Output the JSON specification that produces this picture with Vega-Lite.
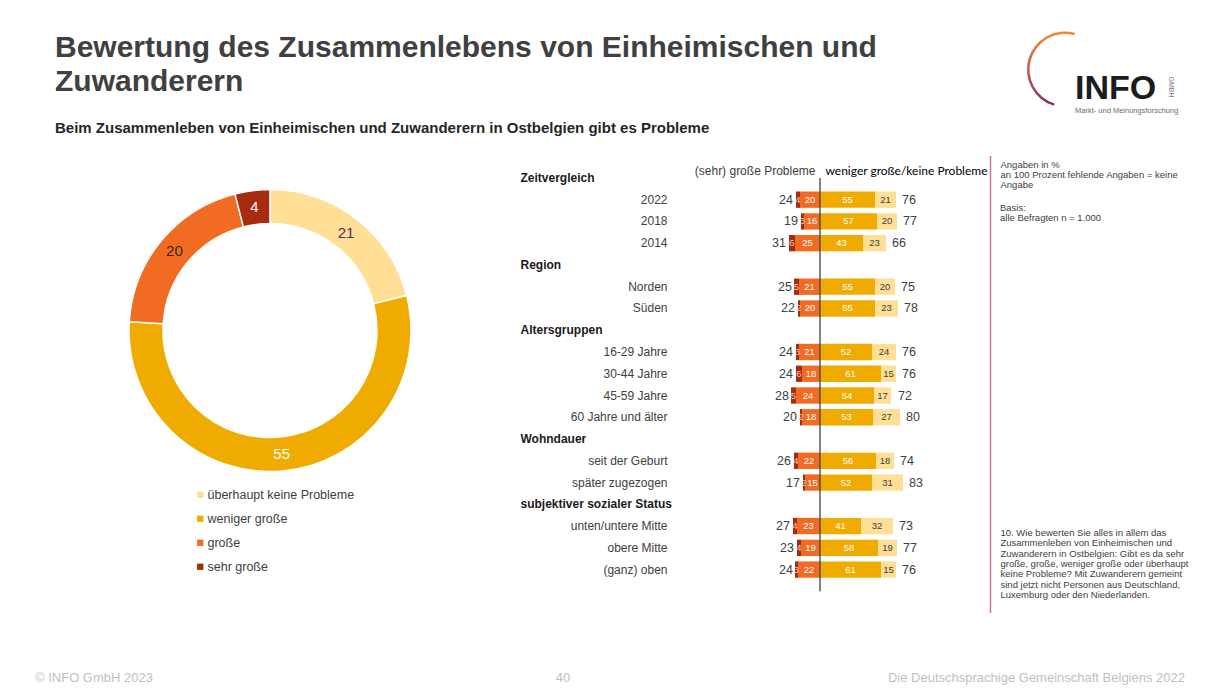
{
  "$schema": "https://vega.github.io/schema/vega-lite/v6.json",
  "background": "white",
  "padding": {"left": 35, "top": 28.5, "right": 5, "bottom": 0},
  "config": {
    "font": "Liberation Sans",
    "view": {"stroke": "transparent"},
    "title": {"font": "Liberation Sans", "subtitleFont": "Liberation Sans"}
  },
  "datasets": {
    "rows": [
      {"label": "2022", "sg": 4, "g": 20, "wg": 55, "kp": 21, "L": 24, "R": 76},
      {"label": "2018", "sg": 3, "g": 16, "wg": 57, "kp": 20, "L": 19, "R": 77},
      {"label": "2014", "sg": 6, "g": 25, "wg": 43, "kp": 23, "L": 31, "R": 66},
      {"label": "Norden", "sg": 5, "g": 21, "wg": 55, "kp": 20, "L": 25, "R": 75},
      {"label": "Süden", "sg": 2, "g": 20, "wg": 55, "kp": 23, "L": 22, "R": 78},
      {"label": "16-29 Jahre", "sg": 3, "g": 21, "wg": 52, "kp": 24, "L": 24, "R": 76},
      {"label": "30-44 Jahre", "sg": 6, "g": 18, "wg": 61, "kp": 15, "L": 24, "R": 76},
      {"label": "45-59 Jahre", "sg": 5, "g": 24, "wg": 54, "kp": 17, "L": 28, "R": 72},
      {"label": "60 Jahre und älter", "sg": 2, "g": 18, "wg": 53, "kp": 27, "L": 20, "R": 80},
      {"label": "seit der Geburt", "sg": 4, "g": 22, "wg": 56, "kp": 18, "L": 26, "R": 74},
      {"label": "später zugezogen", "sg": 2, "g": 15, "wg": 52, "kp": 31, "L": 17, "R": 83},
      {"label": "unten/untere Mitte", "sg": 4, "g": 23, "wg": 41, "kp": 32, "L": 27, "R": 73},
      {"label": "obere Mitte", "sg": 4, "g": 19, "wg": 58, "kp": 19, "L": 23, "R": 77},
      {"label": "(ganz) oben", "sg": 3, "g": 22, "wg": 61, "kp": 15, "L": 24, "R": 76}
    ],
    "donut": [
      {"cat": "überhaupt keine Probleme", "v": 21, "rank": 1},
      {"cat": "weniger große", "v": 55, "rank": 2},
      {"cat": "große", "v": 20, "rank": 3},
      {"cat": "sehr große", "v": 4, "rank": 4}
    ],
    "globe": [
      {"seg": "a", "v": 178},
      {"seg": "b", "v": 182}
    ]
  },
  "bounds": "full",
  "spacing": 0,
  "resolve": {"scale": {"color": "independent", "theta": "independent", "opacity": "independent"}, "legend": {"color": "independent"}},
  "vconcat": [
    {
      "hconcat": [
        {
          "width": 980,
          "height": 125,
          "data": {"values": []},
          "mark": "text",
          "title": {
            "text": ["Bewertung des Zusammenlebens von Einheimischen und", "Zuwanderern"],
            "subtitle": "Beim Zusammenleben von Einheimischen und Zuwanderern in Ostbelgien gibt es Probleme",
            "anchor": "start", "frame": "group", "orient": "top",
            "dx": 20, "offset": -106,
            "fontSize": 30, "fontWeight": "bold", "color": "#404040", "lineHeight": 34,
            "subtitleFontSize": 15, "subtitleFontWeight": "bold", "subtitleColor": "#262626", "subtitlePadding": 24
          }
        },
        {
          "width": 100,
          "height": 80,
          "title": {
            "text": "INFO",
            "subtitle": "Markt- und Meinungsforschung",
            "anchor": "start", "frame": "group", "orient": "top",
            "dx": 60, "offset": -85,
            "fontSize": 34, "fontWeight": "bold", "color": "#1c1c1c",
            "subtitleFontSize": 7.5, "subtitleColor": "#6b6b6b", "subtitlePadding": 1
          },
          "layer": [
            {
              "data": {"name": "globe"},
              "mark": {
                "type": "arc", "outerRadius": 38, "innerRadius": 35.5,
                "fill": {"gradient": "linear", "x1": 0, "y1": 0, "x2": 0, "y2": 1,
                  "stops": [{"offset": 0, "color": "#F28A2E"}, {"offset": 1, "color": "#8E2A6E"}]}
              },
              "encoding": {
                "theta": {"field": "v", "type": "quantitative", "scale": {"range": [3.44, 9.72]}},
                "order": {"field": "seg"},
                "opacity": {"field": "seg", "type": "ordinal", "scale": {"domain": ["a", "b"], "range": [1, 0]}, "legend": null}
              }
            },
            {
              "data": {"values": [{}]},
              "mark": {"type": "point", "opacity": 0},
              "encoding": {
                "y": {
                  "datum": 0, "type": "quantitative", "scale": {"domain": [0, 1]},
                  "axis": {
                    "orient": "right", "domain": false, "ticks": false, "labels": false, "grid": false,
                    "title": "GMBH", "titleAngle": 90, "titleAlign": "center", "titleBaseline": "middle",
                    "titleX": 55, "titleY": 57, "titleFontSize": 7, "titleFontWeight": "normal", "titleColor": "#7a7a7a"
                  }
                }
              }
            }
          ]
        }
      ],
      "spacing": 0,
      "bounds": "flush",
      "resolve": {"scale": {"color": "independent", "theta": "independent", "opacity": "independent"}, "legend": {"color": "independent"}}
    },
    {
      "hconcat": [
        {
          "width": 470,
          "height": 350,
          "data": {"name": "donut"},
          "layer": [
            {
              "mark": {"type": "arc", "outerRadius": 141, "innerRadius": 107, "stroke": "white", "strokeWidth": 1.5},
              "encoding": {
                "theta": {"field": "v", "type": "quantitative", "stack": true},
                "order": {"field": "rank"},
                "color": {
                  "field": "cat", "type": "nominal",
                  "scale": {"domain": ["überhaupt keine Probleme", "weniger große", "große", "sehr große"], "range": ["#FFDF95", "#F0AB00", "#F26B23", "#A62B0F"]},
                  "legend": {
                    "orient": "none", "legendX": 159, "legendY": 333, "title": null, "direction": "vertical",
                    "symbolType": "square", "symbolSize": 40, "symbolStrokeWidth": 0,
                    "labelFontSize": 12.5, "labelColor": "#404040", "labelFont": "Liberation Sans",
                    "rowPadding": 11, "labelOffset": 1, "padding": 0
                  }
                }
              }
            },
            {
              "mark": {"type": "text", "radius": 124, "fontSize": 15},
              "encoding": {
                "theta": {"field": "v", "type": "quantitative", "stack": true},
                "order": {"field": "rank"},
                "detail": {"field": "cat"},
                "text": {"field": "v", "type": "quantitative"},
                "color": {
                  "condition": [
                    {"test": "datum.cat === 'überhaupt keine Probleme'", "value": "#5A2D5A"},
                    {"test": "datum.cat === 'große'", "value": "#3B2A22"}
                  ],
                  "value": "#FFFFFF"
                }
              }
            }
          ]
        },
        {
          "width": 485,
          "height": 457,
          "data": {"name": "rows"},
          "resolve": {"scale": {"x": "independent"}},
          "layer": [
            {
              "transform": [{"fold": ["g", "sg"], "as": ["cat", "v"]}],
              "mark": {"type": "bar"},
              "encoding": {
                "y": {
                  "field": "label", "type": "nominal",
                  "scale": {
                    "domain": ["Zeitvergleich", "2022", "2018", "2014", "Region", "Norden", "Süden", "Altersgruppen", "16-29 Jahre", "30-44 Jahre", "45-59 Jahre", "60 Jahre und älter", "Wohndauer", "seit der Geburt", "später zugezogen", "subjektiver sozialer Status", "unten/untere Mitte", "obere Mitte", "(ganz) oben", " "],
                    "paddingInner": 0.25, "paddingOuter": 0.626, "align": 0.523
                  },
                  "axis": {
                    "orient": "left", "domain": false, "ticks": false, "tickSize": 0, "grid": false, "title": null,
                    "labelFontSize": 12, "labelFont": "Liberation Sans", "labelLimit": 400,
                    "labelAlign": {"condition": {"test": "indexof(['Zeitvergleich','Region','Altersgruppen','Wohndauer','subjektiver sozialer Status'], datum.value) >= 0", "value": "left"}, "value": "right"},
                    "labelPadding": {"condition": {"test": "indexof(['Zeitvergleich','Region','Altersgruppen','Wohndauer','subjektiver sozialer Status'], datum.value) >= 0", "value": -15}, "value": -162},
                    "labelFontWeight": {"condition": {"test": "indexof(['Zeitvergleich','Region','Altersgruppen','Wohndauer','subjektiver sozialer Status'], datum.value) >= 0", "value": "bold"}, "value": "normal"},
                    "labelColor": {"condition": {"test": "indexof(['Zeitvergleich','Region','Altersgruppen','Wohndauer','subjektiver sozialer Status'], datum.value) >= 0", "value": "#1a1a1a"}, "value": "#404040"}
                  }
                },
                "x": {"field": "v", "type": "quantitative", "stack": "zero", "scale": {"domain": [-170, 315], "reverse": true}, "axis": null},
                "color": {"field": "cat", "type": "nominal", "scale": {"domain": ["kp", "wg", "g", "sg"], "range": ["#FFDF95", "#F0AB00", "#F26B23", "#A62B0F"]}, "legend": null},
                "order": {"field": "cat", "sort": "ascending"}
              }
            },
            {
              "transform": [{"fold": ["g", "sg"], "as": ["cat", "v"]}],
              "mark": {"type": "text", "fontSize": 9.5},
              "encoding": {
                "y": {"field": "label", "type": "nominal"},
                "x": {"field": "v", "type": "quantitative", "stack": "zero", "bandPosition": 0.5, "scale": {"domain": [-170, 315], "reverse": true}, "axis": null},
                "detail": {"field": "cat"},
                "order": {"field": "cat", "sort": "ascending"},
                "text": {"field": "v", "type": "quantitative"},
                "color": {"condition": {"test": "datum.cat === 'sg'", "value": "#F6C9B9"}, "value": "#FFFFFF"}
              }
            },
            {
              "mark": {"type": "text", "align": "right", "dx": -3, "fontSize": 12.5, "color": "#404040"},
              "encoding": {
                "y": {"field": "label", "type": "nominal"},
                "x": {"field": "L", "type": "quantitative", "scale": {"domain": [-170, 315], "reverse": true}, "axis": null},
                "text": {"field": "L", "type": "quantitative"}
              }
            },
            {
              "transform": [{"fold": ["wg", "kp"], "as": ["cat", "v"]}],
              "mark": {"type": "bar"},
              "encoding": {
                "y": {"field": "label", "type": "nominal"},
                "x": {"field": "v", "type": "quantitative", "stack": "zero", "scale": {"domain": [-315, 170]}, "axis": null},
                "color": {"field": "cat", "type": "nominal", "scale": {"domain": ["kp", "wg", "g", "sg"], "range": ["#FFDF95", "#F0AB00", "#F26B23", "#A62B0F"]}, "legend": null},
                "order": {"field": "cat", "sort": "descending"}
              }
            },
            {
              "transform": [{"fold": ["wg", "kp"], "as": ["cat", "v"]}],
              "mark": {"type": "text", "fontSize": 9.5},
              "encoding": {
                "y": {"field": "label", "type": "nominal"},
                "x": {"field": "v", "type": "quantitative", "stack": "zero", "bandPosition": 0.5, "scale": {"domain": [-315, 170]}, "axis": null},
                "detail": {"field": "cat"},
                "order": {"field": "cat", "sort": "descending"},
                "text": {"field": "v", "type": "quantitative"},
                "color": {"condition": {"test": "datum.cat === 'kp'", "value": "#404040"}, "value": "#FFFFFF"}
              }
            },
            {
              "mark": {"type": "text", "align": "left", "dx": 6, "fontSize": 12.5, "color": "#404040"},
              "encoding": {
                "y": {"field": "label", "type": "nominal"},
                "x": {"field": "R", "type": "quantitative", "scale": {"domain": [-315, 170]}, "axis": null},
                "text": {"field": "R", "type": "quantitative"}
              }
            },
            {
              "data": {"values": [{}]},
              "mark": {"type": "rule", "color": "#404040", "strokeWidth": 1.3},
              "encoding": {
                "x": {
                  "datum": 0, "type": "quantitative", "scale": {"domain": [-315, 170]},
                  "axis": {
                    "orient": "top", "values": [-5, 5], "domain": false, "ticks": false, "tickSize": 0, "grid": false, "title": null,
                    "labelExpr": "datum.value < 0 ? '(sehr) große Probleme' : 'weniger große/keine Probleme'",
                    "labelAlign": {"condition": {"test": "datum.value < 0", "value": "right"}, "value": "left"},
                    "labelFont": {"condition": {"test": "datum.value < 0", "value": "Liberation Sans"}, "value": "Lato"},
                    "labelColor": {"condition": {"test": "datum.value < 0", "value": "#404040"}, "value": "#000000"},
                    "labelFontSize": 12, "labelPadding": -19, "labelBaseline": "alphabetic",
                    "labelOverlap": false, "labelFlush": false, "labelBound": false, "labelLimit": 300
                  }
                },
                "y": {"datum": "Zeitvergleich", "type": "nominal"},
                "y2": {"datum": " "}
              }
            }
          ]
        },
        {
          "width": 205,
          "height": 457,
          "data": {"values": [{}]},
          "title": {
            "text": ["Basis:", "alle Befragten n = 1.000"],
            "anchor": "start", "frame": "group", "orient": "top",
            "dx": 10, "offset": -67, "fontSize": 9.5, "fontWeight": "normal", "color": "#404040", "lineHeight": 10.2
          },
          "mark": {"type": "point", "opacity": 0},
          "encoding": {
            "x": {
              "datum": 0, "type": "quantitative", "scale": {"domain": [0, 1]},
              "axis": {
                "orient": "bottom", "domain": false, "ticks": false, "labels": false, "grid": false,
                "title": ["10. Wie bewerten Sie alles in allem das", "Zusammenleben von Einheimischen und", "Zuwanderern in Ostbelgien: Gibt es da sehr", "große, große, weniger große oder überhaupt", "keine Probleme? Mit Zuwanderern gemeint", "sind jetzt nicht Personen aus Deutschland,", "Luxemburg oder den Niederlanden."],
                "titleAlign": "left", "titleBaseline": "top", "titleAnchor": "start", "titleX": 10, "titleY": -85,
                "titleFontSize": 9.5, "titleFontWeight": "normal", "titleColor": "#404040", "titleLineHeight": 10.3, "titleFont": "Liberation Sans"
              }
            },
            "y": {
              "datum": 0, "type": "quantitative", "scale": {"domain": [0, 1]},
              "axis": {
                "orient": "left", "domain": true, "domainColor": "#C9769E", "domainWidth": 1.5, "ticks": false, "labels": false, "grid": false,
                "title": ["Angaben in %", "an 100 Prozent fehlende Angaben = keine", "Angabe"],
                "titleAngle": 0, "titleAlign": "left", "titleBaseline": "top", "titleX": 10, "titleY": 4,
                "titleFontSize": 9.5, "titleFontWeight": "normal", "titleColor": "#404040", "titleLineHeight": 10.2, "titleFont": "Liberation Sans"
              }
            }
          }
        }
      ],
      "spacing": 0,
      "bounds": "flush",
      "resolve": {"scale": {"color": "independent", "theta": "independent", "opacity": "independent"}, "legend": {"color": "independent"}}
    },
    {
      "hconcat": [
        {
          "width": 500, "height": 50,
          "data": {"values": []}, "mark": "text",
          "title": {"text": "© INFO GmbH 2023", "orient": "bottom", "anchor": "start", "frame": "group", "offset": 5, "fontSize": 13, "fontWeight": "normal", "color": "#BFBFBF"}
        },
        {
          "width": 56, "height": 50,
          "data": {"values": []}, "mark": "text",
          "title": {"text": "40", "orient": "bottom", "anchor": "middle", "frame": "group", "offset": 5, "fontSize": 13, "fontWeight": "normal", "color": "#BFBFBF"}
        },
        {
          "width": 594, "height": 50,
          "data": {"values": []}, "mark": "text",
          "title": {"text": "Die Deutschsprachige Gemeinschaft Belgiens 2022", "orient": "bottom", "anchor": "end", "frame": "group", "offset": 5, "fontSize": 13, "fontWeight": "normal", "color": "#BFBFBF"}
        }
      ],
      "spacing": 0,
      "bounds": "flush"
    }
  ]
}
